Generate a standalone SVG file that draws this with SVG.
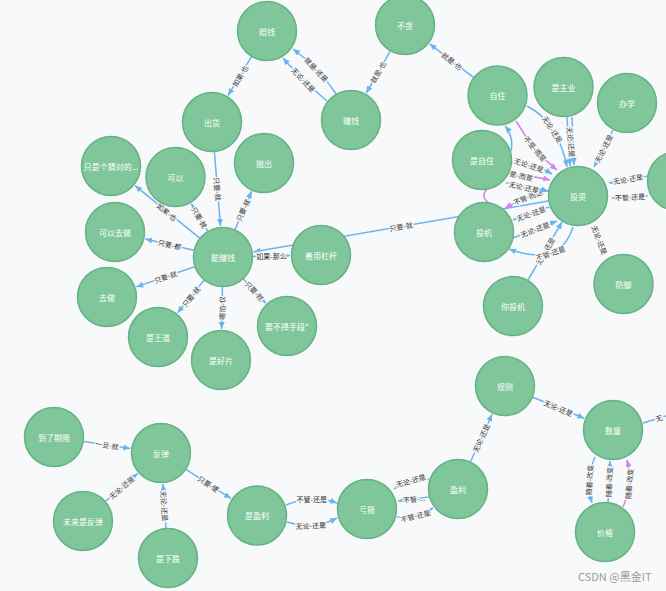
<svg xmlns="http://www.w3.org/2000/svg" width="666" height="591" viewBox="0 0 666 591">
<style>
.bg{fill:#f8f9fb}
.n circle{fill:#7fc79a;stroke:#65b285;stroke-width:1.5}
.n text{font-family:"Noto Sans CJK SC","Noto Sans",sans-serif;font-size:8px;fill:#ffffff;text-anchor:middle;dominant-baseline:central}
.e{fill:none;stroke:#6cb3ee;stroke-width:1.5;marker-end:url(#ab)}
.p{fill:none;stroke:#cf86e8;stroke-width:1.5;marker-end:url(#ap)}
.pn{fill:none;stroke:#cf86e8;stroke-width:1.5}
.l{font-family:"Noto Sans CJK SC","Noto Sans",sans-serif;font-size:7px;fill:#333;text-anchor:middle;dominant-baseline:central;paint-order:stroke;stroke:#f8f9fb;stroke-width:2.5px;stroke-linejoin:round}
.wm{font-family:"Noto Sans CJK SC","Noto Sans",sans-serif;font-size:11px;fill:#9a9a9a}
</style>
<defs>
<marker id="ab" markerUnits="userSpaceOnUse" markerWidth="8" markerHeight="8" refX="7" refY="3" orient="auto"><path d="M0,0 L7,3 L0,6 Z" fill="#6cb3ee"/></marker>
<marker id="ap" markerUnits="userSpaceOnUse" markerWidth="8" markerHeight="8" refX="7" refY="3" orient="auto"><path d="M0,0 L7,3 L0,6 Z" fill="#cf86e8"/></marker>
</defs>
<rect class="bg" x="0" y="0" width="666" height="591"/>
<g id="connectors">
<path class="e" d="M548.4,201.1 L253.6,251.8"/><text class="l" transform="translate(401,226.5) rotate(-9.75)">只要-就</text>
<path class="e" d="M390.2,51.1 L366.3,93.1"/><text class="l" transform="translate(378,72) rotate(-60.4)">就是-也</text>
<path class="e" d="M474.2,77.8 L429.6,43.8"/><text class="l" transform="translate(452,61) rotate(37.4)">就是-也</text>
<path class="e" d="M337,95 Q318,67 293,49"/><text class="l" transform="translate(316.5,69.5) rotate(46.3)">就是-还是</text>
<path class="e" d="M327,101 Q302,80 283,58"/><text class="l" transform="translate(303.5,79.8) rotate(46.3)">无论-还是</text>
<path class="e" d="M251.5,56.7 L228,95.5"/><text class="l" transform="translate(240,76) rotate(-58.9)">如果-也</text>
<path class="e" d="M214.4,152 L220.5,226.1"/><text class="l" transform="translate(217.5,189) rotate(85.3)">只要-就</text>
<path class="e" d="M235,229.5 L251.6,191.4"/><text class="l" transform="translate(243,210) rotate(-66.4)">只要-就</text>
<path class="e" d="M207.7,231.2 L191.3,203.7"/><text class="l" transform="translate(199.5,217.5) rotate(59.3)">只要-就</text>
<path class="e" d="M199.7,238.1 L135,185.6"/><text class="l" transform="translate(167,212) rotate(39.1)">如果-也</text>
<path class="e" d="M193.8,250.2 L145.2,239"/><text class="l" transform="translate(169.5,244.6) rotate(13)">只要-都</text>
<path class="e" d="M194.6,266.8 L136.3,286.9"/><text class="l" transform="translate(165.5,277) rotate(-19)">只要-就</text>
<path class="e" d="M204.1,280.3 L177.5,312.9"/><text class="l" transform="translate(191,296.6) rotate(-50.9)">只要-就</text>
<path class="e" d="M222.4,287 L221.6,329"/><text class="l" transform="translate(222,308) rotate(-89)">哪怕-仅</text>
<path class="e" d="M243.4,279 L265.9,303.3"/><text class="l" transform="translate(254.6,291) rotate(47.2)">只要-就</text>
<path class="e" d="M253,256.4 L290,255.6"/><text class="l" transform="translate(271.5,256)">如果-那么</text>
<path class="e" d="M83.7,441.4 L130.3,448.4"/><text class="l" transform="translate(107,445) rotate(8.5)">一旦-就</text>
<path class="e" d="M105.6,501.3 L137.6,473.4"/><text class="l" transform="translate(121.6,487.4) rotate(-41.1)">无论-还是</text>
<path class="e" d="M166,528 L163,484"/><text class="l" transform="translate(164.5,506) rotate(86.2)">无论-还是</text>
<path class="e" d="M186.1,469.4 L231,498.6"/><text class="l" transform="translate(208.5,484) rotate(33)">只要-便</text>
<path class="e" d="M286,505 Q312,494 337,503"/><text class="l" transform="translate(311.8,499)">不管-还是</text>
<path class="e" d="M287,522 Q312,531 337,518"/><text class="l" transform="translate(310.8,525.5) rotate(-3)">无论-还是</text>
<path class="e" d="M429,479 Q410,477 394,489"/><text class="l" transform="translate(410.8,480.5) rotate(-16)">无论-还是</text>
<path class="e" d="M429,497 L398,501"/><text class="l" transform="translate(414,499) rotate(-7)">不管-...</text>
<path class="e" d="M397,517 Q416,519 433,508"/><text class="l" transform="translate(415.5,515.8) rotate(-14)">不管-还是</text>
<path class="e" d="M470.5,461.7 L492.1,414.2"/><text class="l" transform="translate(481,438) rotate(-65.5)">无论-还是</text>
<path class="e" d="M532.8,397.3 L584.3,418.3"/><text class="l" transform="translate(558.5,408) rotate(22.2)">无论-还是</text>
<path d="M643,423 L666,416" fill="none" stroke="#6cb3ee" stroke-width="1.5"/><text class="l" transform="translate(659,418) rotate(-17)">无</text>
<path class="e" d="M595,457 Q585,480 592,503"/><text class="l" transform="translate(589.3,480) rotate(-86.3)">随着-改变</text>
<path class="e" d="M608,502 L610,461"/><text class="l" transform="translate(609,482) rotate(-87.2)">随着-改变</text>
<path class="p" d="M623,507 Q633,484 627,460"/><text class="l" transform="translate(629,483.8) rotate(-85)">随着-改变</text>
<path class="e" d="M527,106 Q558,122 567,167"/><text class="l" transform="translate(552.5,129.3) rotate(56.7)">无论-还是</text>
<path class="p" d="M516,121 Q534,152 557,170"/><text class="l" transform="translate(535.3,148.8) rotate(50)">不是-而是</text>
<path class="e" d="M567,117 L570,166"/>
<path class="e" d="M572,117 L574,165"/><text class="l" transform="translate(571,142) rotate(84)">无论-还是</text>
<path class="e" d="M613,130 L594,167"/><text class="l" transform="translate(603.5,148.5) rotate(-62.8)">无论-还是</text>
<path class="e" d="M648,176 L609,183"/><text class="l" transform="translate(628,179) rotate(-10)">无论-还是</text>
<path class="e" d="M648,196 L612,198"/><text class="l" transform="translate(630,197) rotate(-3)">不管-还是</text>
<path class="e" d="M605,254 L594,226"/><text class="l" transform="translate(599.5,240) rotate(68.6)">无论-还是</text>
<path class="e" d="M528,280 L562,222"/><text class="l" transform="translate(545,251) rotate(-59.6)">无论-还是</text>
<path class="e" d="M573,227 Q560,268 509,249"/><text class="l" transform="translate(550.5,253) rotate(-19)">不管-还是</text>
<path class="e" d="M513,238 L557,221"/><text class="l" transform="translate(535,229.5) rotate(-21)">无论-还是</text>
<path class="e" d="M549,207 L513,220"/><text class="l" transform="translate(531,213.5) rotate(-19.5)">无论-还是</text>
<path class="p" d="M550,190 Q528,195 505,208"/><text class="l" transform="translate(527.8,197) rotate(-22)">不管-而是</text>
<path class="e" d="M511,163 Q532,162 552,174"/><text class="l" transform="translate(529,165) rotate(18)">无论-还是</text>
<path class="p" d="M508,174 Q528,175 550,180"/><text class="l" transform="translate(518,175) rotate(12)">不是-而是</text>
<path class="e" d="M506,183 Q528,186 548,191"/><text class="l" transform="translate(524,187) rotate(12)">无论-还是</text>
<path class="e" d="M511,151 Q514,137 505,126"/>
<path class="pn" d="M487,189 Q480,197 489,203"/>
</g>
<g id="n-peiqian" class="n"><circle cx="267" cy="31" r="29.5"/><text x="267" y="31">赔钱</text></g>
<g id="n-butan" class="n"><circle cx="405" cy="25" r="29.5"/><text x="405" y="25">不贪</text></g>
<g id="n-zhuanqian" class="n"><circle cx="351" cy="120" r="29.5"/><text x="351" y="120">赚钱</text></g>
<g id="n-chuhuo" class="n"><circle cx="212" cy="122" r="29.5"/><text x="212" y="122">出货</text></g>
<g id="n-paochu" class="n"><circle cx="264" cy="163" r="29.5"/><text x="264" y="163">抛出</text></g>
<g id="n-keyi" class="n"><circle cx="175.5" cy="177" r="29.5"/><text x="175.5" y="177">可以</text></g>
<g id="n-zhishi" class="n"><circle cx="111" cy="166" r="29.5"/><text x="111" y="166">只是个猜对的...</text></g>
<g id="n-keyiquzuo" class="n"><circle cx="115" cy="232" r="29.5"/><text x="115" y="232">可以去做</text></g>
<g id="n-nengzhuanqian" class="n"><circle cx="223" cy="257" r="29.5"/><text x="223" y="257">能赚钱</text></g>
<g id="n-quzuo" class="n"><circle cx="107" cy="297" r="29.5"/><text x="107" y="297">去做</text></g>
<g id="n-shiwangdao" class="n"><circle cx="158" cy="337" r="29.5"/><text x="158" y="337">是王道</text></g>
<g id="n-shihaopian" class="n"><circle cx="221" cy="360" r="29.5"/><text x="221" y="360">是好片</text></g>
<g id="n-buzeshouduan" class="n"><circle cx="287" cy="326" r="29.5"/><text x="287" y="326">要不择手段"</text></g>
<g id="n-ganggan" class="n"><circle cx="321" cy="255" r="29.5"/><text x="321" y="255">善用杠杆</text></g>
<g id="n-zizhu" class="n"><circle cx="497.5" cy="95.5" r="29.5"/><text x="497.5" y="95.5">自住</text></g>
<g id="n-shizhuye" class="n"><circle cx="563.5" cy="87" r="29.5"/><text x="563.5" y="87">是主业</text></g>
<g id="n-banxue" class="n"><circle cx="627" cy="103" r="29.5"/><text x="627" y="103">办学</text></g>
<g id="n-shizizhu" class="n"><circle cx="482" cy="160" r="29.5"/><text x="482" y="160">是自住</text></g>
<g id="n-touzi" class="n"><circle cx="578" cy="196" r="29.5"/><text x="578" y="196">投资</text></g>
<g id="n-touji" class="n"><circle cx="484" cy="232" r="29.5"/><text x="484" y="232">投机</text></g>
<g id="n-nitouji" class="n"><circle cx="513" cy="306" r="29.5"/><text x="513" y="306">你投机</text></g>
<g id="n-fangyu" class="n"><circle cx="623.5" cy="284" r="29.5"/><text x="623.5" y="284">防御</text></g>
<g id="n-right" class="n"><circle cx="677" cy="181" r="29.5"/></g>
<g id="n-guize" class="n"><circle cx="505" cy="386" r="29.5"/><text x="505" y="386">规则</text></g>
<g id="n-shuliang" class="n"><circle cx="613" cy="430" r="29.5"/><text x="613" y="430">数量</text></g>
<g id="n-jiage" class="n"><circle cx="605" cy="532" r="29.5"/><text x="605" y="532">价格</text></g>
<g id="n-yingli" class="n"><circle cx="458" cy="489" r="29.5"/><text x="458" y="489">盈利</text></g>
<g id="n-kuisun" class="n"><circle cx="367" cy="509" r="29.5"/><text x="367" y="509">亏损</text></g>
<g id="n-shiyingli" class="n"><circle cx="257" cy="515.5" r="29.5"/><text x="257" y="515.5">是盈利</text></g>
<g id="n-daoleqixian" class="n"><circle cx="54" cy="437" r="29.5"/><text x="54" y="437">到了期限</text></g>
<g id="n-fantan" class="n"><circle cx="161" cy="453" r="29.5"/><text x="161" y="453">反弹</text></g>
<g id="n-weilai" class="n"><circle cx="83" cy="521" r="29.5"/><text x="83" y="521">未来是反弹</text></g>
<g id="n-shixiadie" class="n"><circle cx="168" cy="558" r="29.5"/><text x="168" y="558">是下跌</text></g>
<text class="wm" x="578" y="581">CSDN @黑金IT</text>
</svg>
